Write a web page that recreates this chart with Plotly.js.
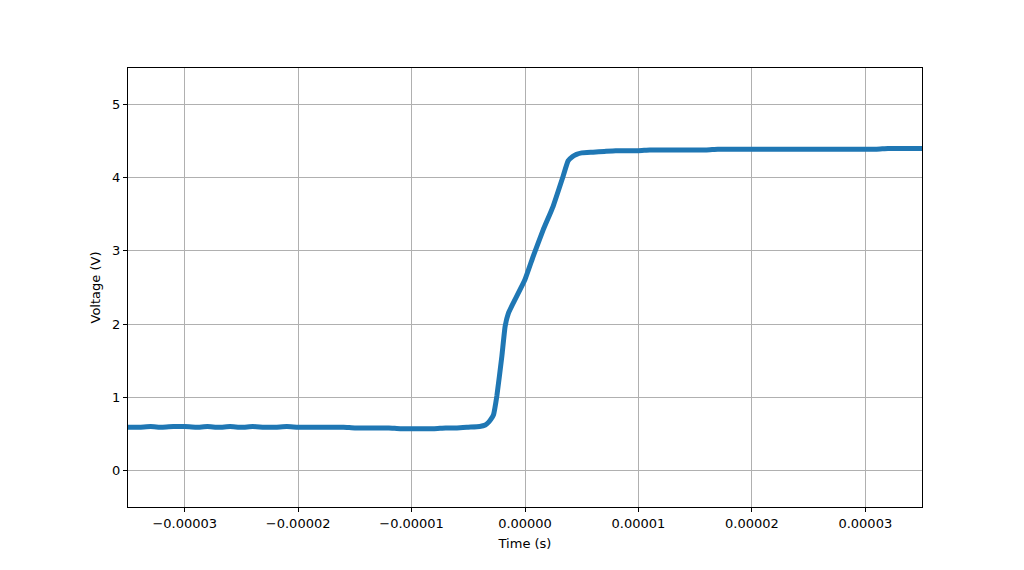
<!DOCTYPE html>
<html><head><meta charset="utf-8">
<script src="https://cdn.plot.ly/plotly-3.0.1.min.js"></script>
<style>html,body{margin:0;padding:0;background:#fff}#chart{width:1024px;height:570px}</style>
</head><body><div id="chart"></div>
<script>
// time in microseconds
const timeUs = [-35,-34,-33,-32,-31,-30,-29,-28,-27,-26,-25,-24,-23,-22,-21,-20,-19,-18,-17,-16,-15,-14,-13,-12,-11,-10,-9,-8,-7,-6,-5,-4,-3.5,-3.2,-3.0,-2.78,-2.48,-2.04,-1.75,-1.46,-1.03,0,0.73,1.61,2.48,3.36,3.8,4.2,4.54,5,6,7,8,9,10,11,12,13,14,15,16,17,18,19,20,21,22,23,24,25,26,27,28,29,30,31,32,33,34,35];
const voltage = [0.59,0.59,0.60,0.59,0.60,0.60,0.59,0.60,0.59,0.60,0.59,0.60,0.59,0.59,0.60,0.59,0.59,0.59,0.59,0.59,0.58,0.58,0.58,0.58,0.57,0.57,0.57,0.57,0.58,0.58,0.59,0.60,0.62,0.66,0.70,0.76,1.02,1.56,1.97,2.15,2.29,2.61,2.93,3.29,3.61,4.02,4.23,4.29,4.32,4.34,4.35,4.36,4.37,4.37,4.37,4.38,4.38,4.38,4.38,4.38,4.38,4.39,4.39,4.39,4.39,4.39,4.39,4.39,4.39,4.39,4.39,4.39,4.39,4.39,4.39,4.39,4.40,4.40,4.40,4.40];
const xTickVals = [-0.00003,-0.00002,-0.00001,0,0.00001,0.00002,0.00003];
const xTickText = ["\u22120.00003","\u22120.00002","\u22120.00001","0.00000","0.00001","0.00002","0.00003"];
const yTickVals = [0,1,2,3,4,5];

const timeS = timeUs.map(t => t * 1e-6);
const font = {family: "DejaVu Sans", size: 13, color: "#000"};
Plotly.newPlot("chart", [{
  x: timeS, y: voltage, type: "scatter", mode: "lines",
  line: {color: "#1f77b4", width: 5, shape: "spline", smoothing: 0.4}, hoverinfo: "skip"
}], {
  width: 1024, height: 570,
  margin: {l: 128, r: 102, t: 68, b: 63},
  paper_bgcolor: "#fff", plot_bgcolor: "#fff",
  showlegend: false,
  font: font,
  xaxis: {
    range: [-0.000035, 0.000035], tickvals: xTickVals, ticktext: xTickText,
    showgrid: true, gridcolor: "#b0b0b0", gridwidth: 1, zeroline: false,
    showline: true, linecolor: "#000", linewidth: 1, mirror: true,
    ticks: "outside", ticklen: 4, tickcolor: "#000",
    title: {text: "Time (s)", font: font, standoff: 9}
  },
  yaxis: {
    range: [-0.5, 5.5], tickvals: yTickVals,
    showgrid: true, gridcolor: "#b0b0b0", gridwidth: 1, zeroline: false,
    showline: true, linecolor: "#000", linewidth: 1, mirror: true,
    ticks: "outside", ticklen: 4, tickcolor: "#000",
    title: {text: "Voltage (V)", font: font, standoff: 8}
  }
}, {displayModeBar: false, staticPlot: true});
</script></body></html>
